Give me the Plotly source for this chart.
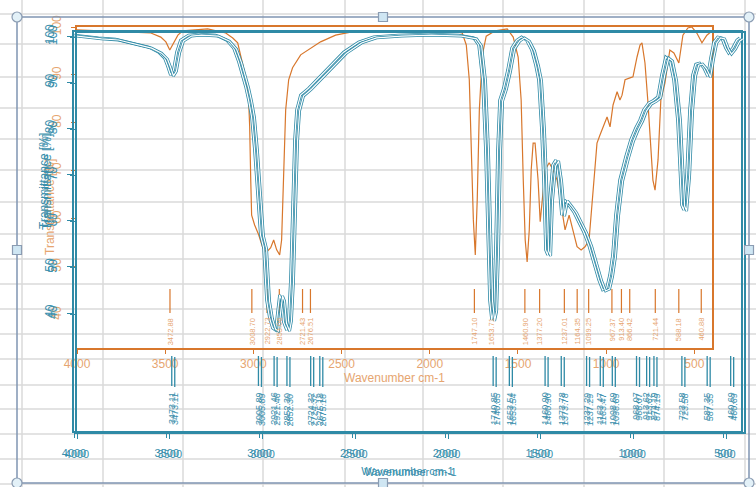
import plotly.graph_objects as go

W, H = 756, 487

# ---------------- spectrum A (orange overlay) ----------------
wn_a = [4000, 3864, 3694, 3581, 3525, 3496, 3474, 3451, 3428, 3400, 3259, 3157, 3117, 3089,
        3072, 3044, 3027, 3021, 3015, 3010, 2993, 2970, 2947, 2925, 2902, 2885, 2868, 2851,
        2840, 2829, 2817, 2800, 2778, 2732, 2676, 2619, 2534, 2449, 2166, 1884, 1816, 1793,
        1776, 1765, 1753, 1742, 1731, 1719, 1702, 1680, 1629, 1561, 1527, 1499, 1482, 1470,
        1459, 1448, 1436, 1425, 1414, 1403, 1386, 1374, 1363, 1346, 1323, 1301, 1278, 1255,
        1233, 1210, 1187, 1165, 1142, 1120, 1097, 1080, 1063, 1052, 1035, 1018, 995, 978,
        961, 938, 922, 910, 893, 865, 848, 825, 808, 797, 780, 763, 746, 735, 723, 706, 690,
        667, 639, 616, 588, 565, 537, 514, 486, 457, 429, 407]
t_a = [99.4, 99.2, 99.0, 98.75, 97.9, 96.9, 95.2, 96.9, 98.3, 99.2, 99.6, 98.75, 97.7, 96.7,
       93.75, 89.6, 84.8, 79.2, 68.1, 60.8, 58.75, 56.7, 54.0, 53.1, 54.0, 55.6, 53.55, 52.5,
       55.6, 68.1, 82.7, 89.0, 91.5, 94.2, 95.6, 96.9, 98.3, 98.95, 99.2, 99.2, 98.75, 96.25,
       89.0, 74.4, 59.8, 52.5, 64.0, 82.7, 94.2, 98.1, 99.2, 99.6, 97.9, 93.75, 84.8, 68.1,
       55.6, 51.05, 57.7, 70.2, 75.8, 75.8, 68.1, 59.4, 64.0, 70.2, 71.7, 70.2, 68.1, 62.9,
       57.7, 60.8, 57.7, 54.2, 53.55, 54.2, 55.6, 64.0, 72.3, 75.8, 77.5, 79.2, 81.25, 79.2,
       83.75, 86.5, 84.8, 85.8, 89.0, 89.4, 89.6, 93.75, 96.25, 96.7, 92.5, 84.2, 74.4, 68.1,
       66.0, 72.3, 84.8, 88.3, 95.2, 94.6, 92.5, 98.3, 99.8, 100.0, 98.75, 96.7, 98.3, 98.95]
peaks_a = [3472.88, 3008.70, 2922.73, 2853.06, 2721.43, 2676.51, 1747.10, 1653.71, 1460.90,
           1377.20, 1237.01, 1164.35, 1099.25, 967.37, 913.40, 866.42, 721.44, 588.18, 460.88]

# ---------------- spectrum B (teal) ----------------
wn_b = [4000, 3868, 3776, 3690, 3598, 3544, 3512, 3496, 3480, 3464, 3447, 3426, 3383, 3329,
        3237, 3178, 3140, 3113, 3092, 3075, 3059, 3043, 3027, 3016, 3005, 2995, 2978, 2962,
        2946, 2930, 2914, 2903, 2892, 2881, 2871, 2854, 2844, 2833, 2822, 2811, 2800, 2779,
        2736, 2682, 2628, 2547, 2466, 2385, 2251, 2089, 1927, 1846, 1819, 1798, 1782, 1771,
        1760, 1749, 1738, 1728, 1717, 1706, 1685, 1663, 1641, 1614, 1588, 1561, 1534, 1512,
        1496, 1480, 1469, 1458, 1447, 1437, 1420, 1404, 1388, 1372, 1356, 1334, 1307, 1280,
        1253, 1226, 1199, 1172, 1151, 1129, 1113, 1097, 1081, 1059, 1027, 1000, 973, 951,
        930, 903, 876, 854, 833, 811, 790, 768, 747, 736, 725, 714, 698, 682, 666, 649, 628,
        606, 585, 569, 552, 531, 509, 488, 472, 450, 428, 412]
t_b = [100.2, 99.6, 99.35, 98.5, 97.6, 96.5, 95.2, 93.5, 91.55, 92.6, 96.5, 99.1, 100.2, 100.4,
       100.2, 99.1, 97.4, 94.4, 91.55, 89.0, 86.1, 82.5, 75.3, 68.8, 61.2, 56.9, 54.1, 42.8,
       38.9, 36.75, 36.3, 40.65, 43.9, 42.8, 38.05, 36.3, 38.5, 47.2, 64.5, 77.5, 84.0, 87.2,
       88.7, 90.9, 93.1, 96.5, 98.7, 99.8, 100.2, 100.4, 100.2, 99.6, 98.05, 90.5, 75.3, 58.0,
       42.8, 38.5, 40.65, 53.65, 75.3, 86.1, 88.7, 92.6, 97.4, 99.1, 99.8, 99.1, 97.0, 93.7,
       90.5, 79.6, 68.8, 53.65, 52.6, 64.5, 72.1, 73.15, 68.8, 61.2, 64.5, 63.4, 61.9, 59.7,
       57.55, 54.7, 51.05, 47.2, 45.0, 45.4, 48.2, 52.6, 61.2, 68.8, 73.8, 77.5, 80.1, 81.8,
       84.0, 85.5, 86.1, 86.8, 91.55, 95.45, 94.8, 90.5, 81.8, 72.1, 63.4, 62.3, 69.9, 84.0,
       91.55, 93.9, 94.15, 93.1, 91.3, 95.2, 98.7, 99.8, 99.6, 97.4, 96.3, 97.4, 99.1, 99.6]
peaks_b = [3473.11, 3005.89, 2921.46, 2852.30, 2724.32, 2675.18, 1740.85, 1653.54, 1460.90,
           1373.78, 1237.29, 1163.47, 1098.69, 968.07, 913.62, 874.19, 723.58, 587.35, 460.69]

x_ticks = [4000, 3500, 3000, 2500, 2000, 1500, 1000, 500]
y_ticks = [40, 50, 60, 70, 80, 90, 100]
x_title = "Wavenumber cm-1"
y_title = "Transmittance [%]"

ORANGE = "#d8772c"
ORANGE_TXT = "#e6a570"
TEAL = "#2f8aa6"
TEAL_TXT = "#3b90ad"
GRID = "#dadada"
FRAME = "#8095b3"
FONT = "Liberation Sans, Arial, sans-serif"


def fx(p):
    return p / W


def fy(p):
    return 1 - p / H


def sticks(values, top, bottom):
    xs, ys = [], []
    for v in values:
        xs += [v, v, None]
        ys += [top, bottom, None]
    return xs, ys


fig = go.Figure()

# orange spectrum and its peak markers
fig.add_trace(go.Scatter(x=wn_a, y=t_a, mode="lines", xaxis="x", yaxis="y",
                         line=dict(color=ORANGE, width=1.2), hoverinfo="skip"))
sx, sy = sticks(peaks_a, 45.4, 40.4)
fig.add_trace(go.Scatter(x=sx, y=sy, mode="lines", xaxis="x", yaxis="y",
                         line=dict(color=ORANGE, width=1.2), hoverinfo="skip"))

# teal spectrum: hollow line drawn twice (offset copy on x3/y3, then x2/y2)
for xa, ya in (("x3", "y3"), ("x2", "y2")):
    fig.add_trace(go.Scatter(x=wn_b, y=t_b, mode="lines", xaxis=xa, yaxis=ya,
                             line=dict(color=TEAL, width=2.8), hoverinfo="skip"))
    fig.add_trace(go.Scatter(x=wn_b, y=t_b, mode="lines", xaxis=xa, yaxis=ya,
                             line=dict(color="white", width=1.2), hoverinfo="skip"))
    bx, by = sticks(peaks_b, 30.7, 24.2)
    fig.add_trace(go.Scatter(x=bx, y=by, mode="lines", xaxis=xa, yaxis=ya,
                             line=dict(color=TEAL, width=1.3), hoverinfo="skip"))

common = dict(showgrid=False, zeroline=False, showline=True, mirror=True,
              ticks="outside", fixedrange=True, automargin=False)

# orange axes
orange_dom_x = [fx(77), fx(712)]
orange_dom_y = [fy(348), fy(27)]
# teal axes and their offset copy
teal_dom_x = [fx(74), fx(741)]
teal_dom_y = [fy(431), fy(32)]
dx, dy = 3, 1
ghost_dom_x = [fx(74 + dx), fx(741 + dx)]
ghost_dom_y = [fy(431 + dy), fy(32 + dy)]

teal_x = dict(range=[4000, 405], tickvals=x_ticks, linecolor=TEAL, linewidth=1.6,
              tickcolor=TEAL, ticklen=5, tickwidth=1.3, ticklabelstandoff=6,
              tickfont=dict(family=FONT, size=11, color=TEAL_TXT),
              title=dict(text=x_title, font=dict(family=FONT, size=11, color=TEAL_TXT),
                         standoff=9), **common)
teal_y = dict(range=[14.45, 100.87], tickvals=y_ticks, linecolor=TEAL, linewidth=1.6,
              tickcolor=TEAL, ticklen=5, tickwidth=1.3, tickangle=-90,
              ticklabelstandoff=8,
              tickfont=dict(family=FONT, size=12, color=TEAL_TXT), **common)

fig.update_layout(
    width=W, height=H, autosize=False,
    margin=dict(l=0, r=0, t=0, b=0, pad=0, autoexpand=False),
    paper_bgcolor="white", plot_bgcolor="rgba(0,0,0,0)",
    showlegend=False,
    font=dict(family=FONT),
    xaxis=dict(domain=orange_dom_x, anchor="y", range=[4000, 400], tickvals=x_ticks,
               linecolor=ORANGE, linewidth=1.5, tickcolor=ORANGE, ticklen=4,
               tickfont=dict(family=FONT, size=12, color=ORANGE_TXT),
               title=dict(text=x_title, font=dict(family=FONT, size=12, color=ORANGE_TXT),
                          standoff=3), **common),
    yaxis=dict(domain=orange_dom_y, anchor="x", range=[33.1, 100], tickvals=y_ticks,
               linecolor=ORANGE, linewidth=1.5, tickcolor=ORANGE, ticklen=4, tickangle=-90,
               ticklabelstandoff=5,
               tickfont=dict(family=FONT, size=12, color=ORANGE_TXT), **common),
    xaxis2=dict(domain=teal_dom_x, anchor="y2", **teal_x),
    yaxis2=dict(domain=teal_dom_y, anchor="x2", **teal_y),
    xaxis3=dict(domain=ghost_dom_x, anchor="y3", **teal_x),
    yaxis3=dict(domain=ghost_dom_y, anchor="x3", **teal_y),
)

# peak value labels
ann = []
for v in peaks_a:
    ann.append(dict(x=v, y=39.8, xref="x", yref="y", text=f"{v:.2f}", showarrow=False,
                    textangle=-90, xanchor="center", yanchor="top",
                    font=dict(family=FONT, size=7.5, color=ORANGE_TXT)))
for xa, ya in (("x3", "y3"), ("x2", "y2")):
    for v in peaks_b:
        ann.append(dict(x=v, y=23.3, xref=xa, yref=ya, text=f"{v:.2f}", showarrow=False,
                        textangle=-90, xanchor="center", yanchor="top",
                        font=dict(family=FONT, size=9, color=TEAL_TXT)))

# y-axis titles
ann.append(dict(x=fx(41), y=fy(157), xref="paper", yref="paper", text=y_title,
                showarrow=False, textangle=-90,
                font=dict(family=FONT, size=12, color=ORANGE_TXT)))
for ox, oy in ((0, 0), (dx, dy)):
    ann.append(dict(x=fx(35 + ox), y=fy(181 + oy), xref="paper", yref="paper", text=y_title,
                    showarrow=False, textangle=-90,
                    font=dict(family=FONT, size=12, color=TEAL_TXT)))
fig.update_layout(annotations=ann)

# worksheet cell grid behind the chart
shapes = []
grid_cols = [22, 103, 183, 263, 345, 423, 503, 584, 664, 745]
grid_rows = [14, 44, 77, 108, 139, 170, 202, 234, 259, 284, 309, 334, 359, 385, 409, 434, 459, 484]
for c in grid_cols:
    shapes.append(dict(type="line", xref="paper", yref="paper", x0=fx(c), x1=fx(c),
                       y0=0, y1=1, line=dict(color=GRID, width=1.5), layer="below"))
for r in grid_rows:
    shapes.append(dict(type="line", xref="paper", yref="paper", x0=0, x1=1,
                       y0=fy(r), y1=fy(r), line=dict(color=GRID, width=1.5), layer="below"))

# selection frame with handles
L, T, R, B = 17, 17, 749, 483
shapes.append(dict(type="rect", xref="paper", yref="paper", x0=fx(L), x1=fx(R),
                   y0=fy(B), y1=fy(T), line=dict(color=FRAME, width=1.5), layer="above"))
for cx, cy in ((L, T), (R, T), (L, B), (R, B)):
    shapes.append(dict(type="circle", xref="paper", yref="paper",
                       x0=fx(cx - 5), x1=fx(cx + 5), y0=fy(cy + 5), y1=fy(cy - 5),
                       fillcolor="#e3f1f8", line=dict(color="#8b9cb2", width=1.2),
                       layer="above"))
for cx, cy in (((L + R) / 2, T), ((L + R) / 2, B), (L, 250), (R, 250)):
    shapes.append(dict(type="rect", xref="paper", yref="paper",
                       x0=fx(cx - 4.5), x1=fx(cx + 4.5), y0=fy(cy + 4.5), y1=fy(cy - 4.5),
                       fillcolor="#cfe6f3", line=dict(color="#8b9cb2", width=1.2),
                       layer="above"))
fig.update_layout(shapes=shapes)

fig.write_html("out.html")
